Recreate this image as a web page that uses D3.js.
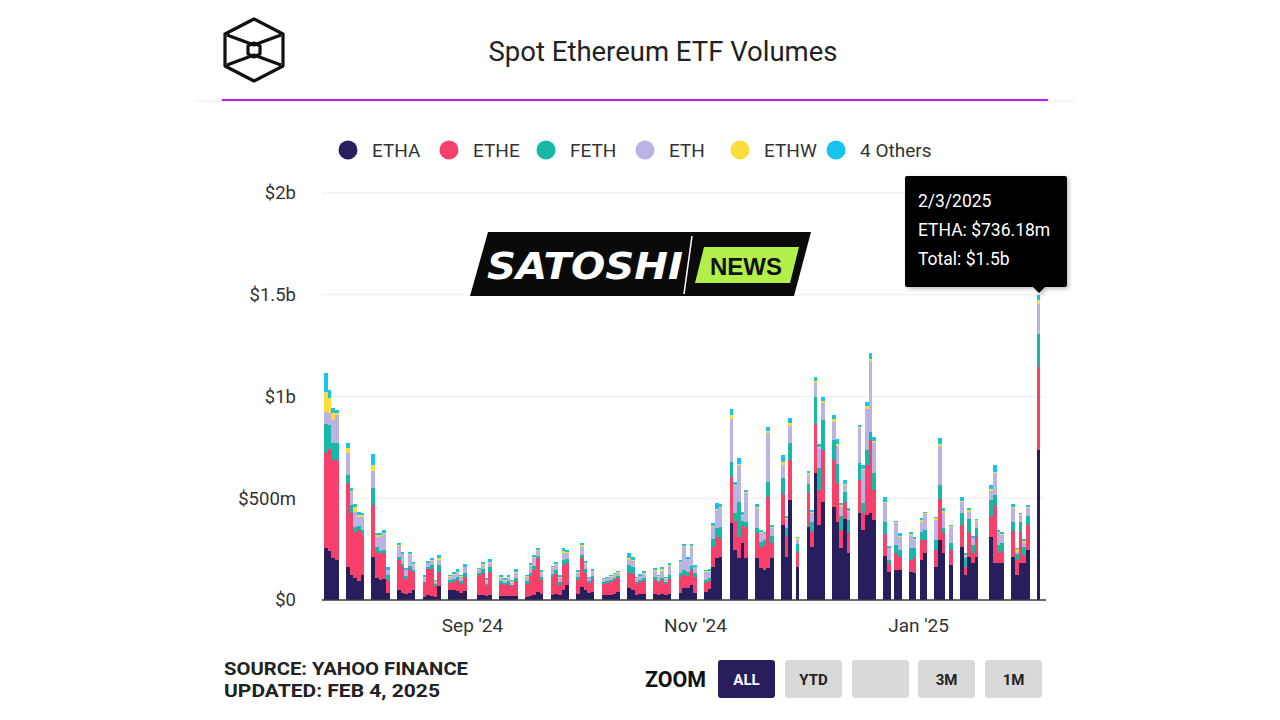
<!DOCTYPE html>
<html><head><meta charset="utf-8">
<script src="https://cdn.jsdelivr.net/npm/d3@7"></script>
<style>
body{margin:0;background:#fff;}
svg{display:block;font-family:Roboto,'Open Sans',sans-serif;}
</style>
</head><body>
<svg id="c" width="1280" height="720"></svg>
<script>
// ---------------- DATA ($ millions) ----------------
const dates = [
"2024-07-23","2024-07-24","2024-07-25","2024-07-26",
"2024-07-29","2024-07-30","2024-07-31","2024-08-01","2024-08-02",
"2024-08-05","2024-08-06","2024-08-07","2024-08-08","2024-08-09",
"2024-08-12","2024-08-13","2024-08-14","2024-08-15","2024-08-16",
"2024-08-19","2024-08-20","2024-08-21","2024-08-22","2024-08-23",
"2024-08-26","2024-08-27","2024-08-28","2024-08-29","2024-08-30",
"2024-09-03","2024-09-04","2024-09-05","2024-09-06",
"2024-09-09","2024-09-10","2024-09-11","2024-09-12","2024-09-13",
"2024-09-16","2024-09-17","2024-09-18","2024-09-19","2024-09-20",
"2024-09-23","2024-09-24","2024-09-25","2024-09-26","2024-09-27",
"2024-09-30","2024-10-01","2024-10-02","2024-10-03","2024-10-04",
"2024-10-07","2024-10-08","2024-10-09","2024-10-10","2024-10-11",
"2024-10-14","2024-10-15","2024-10-16","2024-10-17","2024-10-18",
"2024-10-21","2024-10-22","2024-10-23","2024-10-24","2024-10-25",
"2024-10-28","2024-10-29","2024-10-30","2024-10-31","2024-11-01",
"2024-11-04","2024-11-05","2024-11-06","2024-11-07","2024-11-08",
"2024-11-11","2024-11-12","2024-11-13","2024-11-14","2024-11-15",
"2024-11-18","2024-11-19","2024-11-20","2024-11-21","2024-11-22",
"2024-11-25","2024-11-26","2024-11-27","2024-11-29",
"2024-12-02","2024-12-03","2024-12-04","2024-12-05","2024-12-06",
"2024-12-09","2024-12-10","2024-12-11","2024-12-12","2024-12-13",
"2024-12-16","2024-12-17","2024-12-18","2024-12-19","2024-12-20",
"2024-12-23","2024-12-24","2024-12-26","2024-12-27",
"2024-12-30","2024-12-31","2025-01-02","2025-01-03",
"2025-01-06","2025-01-07","2025-01-08","2025-01-10",
"2025-01-13","2025-01-14","2025-01-15","2025-01-16","2025-01-17",
"2025-01-21","2025-01-22","2025-01-23","2025-01-24",
"2025-01-27","2025-01-28","2025-01-29","2025-01-30","2025-01-31",
"2025-02-03"];

const etha = [254,240,205,197,164,123,106,95,123,213,
107,100,105,33,49,33,30,35,49,16,
25,20,16,69,49,49,45,35,45,25,
25,20,25,20,18,20,18,20,16,20,
25,41,30,25,30,25,49,74,30,66,
50,35,40,25,25,25,30,41,57,50,
25,28,30,30,25,28,25,30,35,57,
60,74,33,41,55,164,205,213,377,246,
205,278,205,205,156,147,156,205,369,210,
491,164,357,262,622,369,483,459,385,254,
400,229,426,344,418,426,393,216,139,147,
147,139,134,197,229,164,295,229,172,262,
123,213,180,213,308,180,180,180,210,123,
180,180,246,736.18];

const ethe = [467,500,483,491,409,303,230,250,196,254,
130,125,125,65,148,131,75,115,90,66,
125,130,55,70,33,40,55,45,70,100,
106,50,115,60,55,60,50,75,65,100,
120,164,70,90,100,50,123,106,70,139,
85,50,65,55,60,65,70,65,74,80,
55,60,65,70,60,70,55,75,80,66,
60,73,78,41,40,98,106,85,229,140,
106,91,155,123,106,123,352,75,152,104,
197,73,170,79,243,172,254,229,188,90,
80,99,164,82,245,360,148,108,44,82,
66,58,79,98,66,82,200,99,74,107,
38,123,49,98,105,287,49,60,131,74,
156,41,123,410];

const feth = [144,120,82,82,41,41,24,20,25,82,
25,18,17,25,12,15,15,15,9,8,
10,20,7,33,15,15,15,15,20,10,
20,10,20,12,10,12,8,15,12,15,
20,12,15,15,15,12,25,20,15,15,
15,10,12,8,10,10,10,10,41,30,
10,10,12,12,10,10,10,20,20,24,
20,20,20,16,15,36,41,62,74,40,
172,20,25,24,25,25,74,35,77,38,
85,38,43,44,131,106,148,98,95,69,
50,65,82,49,74,41,81,61,14,41,
33,57,41,41,49,49,70,24,33,60,
44,60,41,41,78,49,41,40,44,29,
49,41,44,160];

const eth = [60,60,114,139,107,65,74,45,65,87,
50,70,75,24,58,45,25,55,24,20,
20,20,10,25,18,20,20,18,25,12,
20,15,20,18,12,18,12,25,20,30,
40,25,20,25,25,20,32,30,20,42,
25,12,20,12,12,15,15,18,25,30,
15,18,22,30,18,35,15,40,45,115,
60,95,30,41,30,62,90,90,209,135,
180,25,139,99,41,33,240,40,65,41,
82,20,44,44,69,98,85,90,89,46,
33,41,172,164,200,349,151,90,57,107,
65,65,41,49,79,98,192,77,81,54,
11,38,33,38,46,106,58,40,65,11,
33,16,37,150];

const ethw = [96,75,33,10,24,5,25,8,7,27,
6,6,8,0,3,3,3,5,3,3,
3,5,3,8,3,3,5,3,3,5,
5,3,5,5,3,5,3,5,5,5,
5,5,3,5,5,5,10,5,3,8,
5,3,5,3,3,3,4,5,10,8,
3,4,5,5,4,8,5,5,5,3,
3,3,3,3,3,5,5,5,20,5,
5,5,5,5,5,3,8,3,17,8,
13,8,10,3,12,5,10,15,8,6,
8,5,5,4,15,8,10,8,3,4,
5,5,3,10,5,8,12,10,3,5,
5,6,4,3,10,5,6,6,6,12,
5,12,5,16];

const others = [93,35,28,15,25,15,11,15,10,53,
10,10,14,17,12,10,8,12,13,10,
10,10,7,16,5,9,11,7,14,4,
12,8,15,8,8,8,7,11,5,10,
11,10,9,9,13,11,15,11,9,12,
13,5,9,3,5,5,5,5,22,15,
7,8,10,9,6,13,5,13,10,10,
10,10,8,5,8,15,28,15,28,16,
28,15,12,14,11,5,19,11,33,12,
25,5,10,10,17,17,19,18,25,10,
19,11,11,20,23,31,20,22,8,7,
12,12,10,6,6,5,25,11,6,16,
8,10,7,3,18,36,10,10,16,5,
6,8,12,28];

const seriesKeys = ["ETHA","ETHE","FETH","ETH","ETHW","4 Others"];
const seriesColors = ["#281e5d","#f8416a","#17b9a6","#bab3e4","#fbdc3a","#18c4ef"];
const yTicks = [0,500,1000,1500,2000];
const xTickDates = ["2024-09-01","2024-11-01","2025-01-01"];
const xTickLabels = ["Sep '24","Nov '24","Jan '25"];
const zoomButtons = ["ALL","YTD","","3M","1M"];
const tooltipLines = ["2/3/2025","ETHA: $736.18m","Total: $1.5b"];

// ---------------- BUILD ----------------
const svg = d3.select("#c");
const parse = d3.utcParse("%Y-%m-%d");
const cols = [etha,ethe,feth,eth,ethw,others];
const rows = dates.map((d,i)=>{
  const r = {date: parse(d)};
  seriesKeys.forEach((k,j)=> r[k] = cols[j][i]);
  return r;
});
const stacked = d3.stack().keys(seriesKeys)(rows);

const plotL = 322, plotR = 1045;
const x = d3.scaleUtc().domain([parse("2024-09-01"), parse("2025-01-01")]).range([472, 918]);
const y = d3.scaleLinear().domain([0,2000]).range([600,193]);
const color = d3.scaleOrdinal().domain(seriesKeys).range(seriesColors);

// header logo (cube)
const logo = svg.append("g").attr("fill","none").attr("stroke","#111").attr("stroke-width",3.2).attr("stroke-linejoin","round");
logo.append("path").attr("d","M254,19 L283,34 L283,66 L254,81 L225,66 L225,34 Z");
logo.append("path").attr("d","M227,35 L254,45 L281,35");
logo.append("path").attr("d","M227,65 L254,55 L281,65");
logo.append("path").attr("d","M254,43 L260,46 L260,54 L254,57 L248,54 L248,46 Z");

svg.append("text").attr("x",663).attr("y",61).attr("text-anchor","middle")
  .attr("font-size",27.5).attr("fill","#222").text("Spot Ethereum ETF Volumes");

svg.append("line").attr("x1",195).attr("x2",1075).attr("y1",101).attr("y2",101).attr("stroke","#f3e3f6").attr("stroke-width",1);
svg.append("line").attr("x1",222).attr("x2",1048).attr("y1",100).attr("y2",100).attr("stroke","#c11fe3").attr("stroke-width",2);

// legend
const legX = [348,449,546,645,740,836];
const leg = svg.append("g");
seriesKeys.forEach((k,i)=>{
  leg.append("circle").attr("cx",legX[i]).attr("cy",150).attr("r",9.5).attr("fill",color(k));
  leg.append("text").attr("x",legX[i]+24).attr("y",157).attr("font-size",19).attr("fill","#333").text(k);
});

// gridlines
svg.append("g").selectAll("line").data(yTicks.filter(v=>v>0)).join("line")
  .attr("x1",plotL).attr("x2",plotR).attr("y1",d=>y(d)).attr("y2",d=>y(d))
  .attr("stroke","#ececec").attr("stroke-width",1.2);

// y axis
const yAxis = svg.append("g").attr("transform",`translate(${plotL},0)`)
  .call(d3.axisLeft(y).tickValues(yTicks).tickSize(0).tickPadding(26)
    .tickFormat(v=> v===0 ? "$0" : (v>=1000 ? "$"+(v/1000)+"b" : "$"+v+"m")));
yAxis.select(".domain").remove();
yAxis.selectAll("text").attr("font-size",18.5).attr("fill","#333").attr("font-family","Roboto,sans-serif");

// bars
const dayW = x(parse("2024-09-02")) - x(parse("2024-09-01"));
const barsG = svg.append("g").attr("shape-rendering","crispEdges");
barsG.selectAll("g").data(stacked).join("g").attr("fill",d=>color(d.key))
  .selectAll("rect").data(d=>d).join("rect")
  .attr("x",d=>x(d.data.date) - dayW/2)
  .attr("width",dayW)
  .attr("y",d=>y(d[1]))
  .attr("height",d=>Math.max(0, y(d[0]) - y(d[1])));

// baseline
svg.append("line").attr("x1",plotL).attr("x2",plotR+1).attr("y1",600).attr("y2",600).attr("stroke","#3a3a3a").attr("stroke-width",1.6);

// x axis
const xAxis = svg.append("g").attr("transform","translate(0,600)")
  .call(d3.axisBottom(x).tickValues(xTickDates.map(parse)).tickSize(0).tickPadding(19)
    .tickFormat((d,i)=>xTickLabels[i]));
xAxis.select(".domain").remove();
xAxis.selectAll("text").attr("font-size",19).attr("fill","#333").attr("font-family","Roboto,sans-serif");

// watermark
const wm = svg.append("g");
wm.append("path").attr("d","M488,232 L811,232 L794,296 L470,296 Z").attr("fill","#0a0a0a");
wm.append("path").attr("d","M704,247 L799,247 L790,283 L695,283 Z").attr("fill","#b3ef4a");
wm.append("line").attr("x1",692).attr("y1",236).attr("x2",684).attr("y2",294).attr("stroke","#fff").attr("stroke-width",1.5);
wm.append("text").attr("x",487).attr("y",279).attr("font-size",37).attr("font-weight",900).attr("font-style","italic")
  .attr("fill","#fff").attr("textLength",196).attr("lengthAdjust","spacingAndGlyphs").attr("font-family","'DejaVu Sans',sans-serif").text("SATOSHI");
wm.append("text").attr("x",746).attr("y",275).attr("text-anchor","middle").attr("font-size",24).attr("font-weight",700)
  .attr("fill","#111").attr("font-family","'Liberation Sans',Arial,sans-serif").text("NEWS");

// tooltip
const defs = svg.append("defs");
const f = defs.append("filter").attr("id","sh").attr("x","-10%").attr("y","-10%").attr("width","130%").attr("height","130%");
f.append("feDropShadow").attr("dx",2).attr("dy",2).attr("stdDeviation",2).attr("flood-color","#000").attr("flood-opacity",0.25);
const tt = svg.append("g").attr("filter","url(#sh)");
tt.append("rect").attr("x",905).attr("y",176).attr("width",162).attr("height",111).attr("rx",2).attr("fill","#000");
tt.append("path").attr("d","M1032,286 L1046,286 L1039,293 Z").attr("fill","#000");
tooltipLines.forEach((t,i)=>{
  svg.append("text").attr("x",918).attr("y",207+i*29).attr("font-size",17.5).attr("fill","#fff").text(t);
});

// footer
svg.append("text").attr("x",224).attr("y",675).attr("font-size",19).attr("font-weight",700).attr("fill","#222")
  .attr("textLength",244).attr("lengthAdjust","spacingAndGlyphs").text("SOURCE: YAHOO FINANCE");
svg.append("text").attr("x",224).attr("y",697).attr("font-size",19).attr("font-weight",700).attr("fill","#222")
  .attr("textLength",216).attr("lengthAdjust","spacingAndGlyphs").text("UPDATED: FEB 4, 2025");
svg.append("text").attr("x",645).attr("y",687).attr("font-size",22).attr("font-weight",700).attr("fill","#111")
  .attr("textLength",61).attr("lengthAdjust","spacingAndGlyphs").text("ZOOM");
const btnX = [718,785,852,918,985];
zoomButtons.forEach((b,i)=>{
  svg.append("rect").attr("x",btnX[i]).attr("y",660).attr("width",57).attr("height",38).attr("rx",3)
    .attr("fill", i===0 ? "#2a1d5e" : "#d9d9d9");
  svg.append("text").attr("x",btnX[i]+28.5).attr("y",685).attr("text-anchor","middle").attr("font-size",15)
    .attr("font-weight",700).attr("fill", i===0 ? "#fff" : "#222").text(b);
});
</script>
</body></html>
